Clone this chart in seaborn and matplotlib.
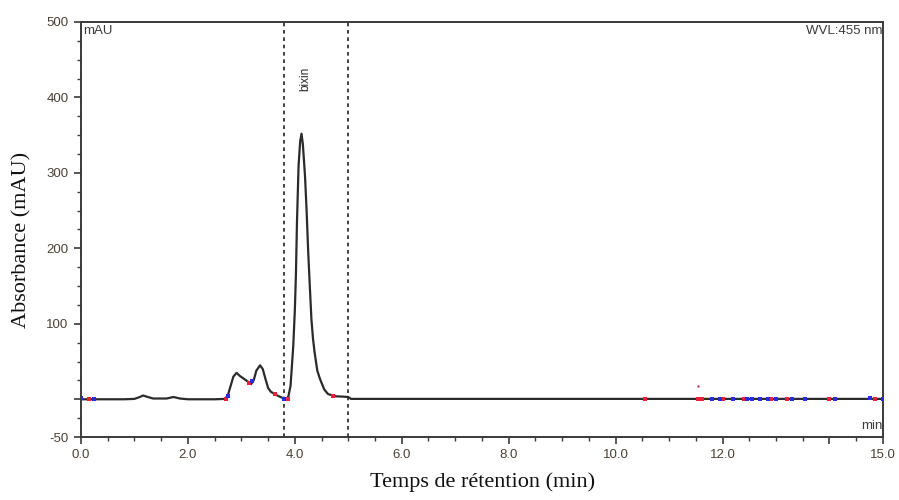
import matplotlib
matplotlib.use("Agg")
import matplotlib.pyplot as plt
import seaborn as sns
import pandas as pd
from matplotlib.ticker import MultipleLocator, FixedLocator

# ---- data ----
time_min = [0.0, 0.1, 0.3, 0.8, 1.0, 1.1, 1.16, 1.25, 1.35, 1.6, 1.73, 1.85, 2.0,
            2.5, 2.7, 2.75, 2.8, 2.85, 2.91, 2.97, 3.05, 3.13, 3.18, 3.23, 3.28,
            3.35, 3.4, 3.45, 3.5, 3.55, 3.62, 3.7, 3.78, 3.84, 3.88, 3.92, 3.97,
            4.0, 4.02, 4.04, 4.07, 4.1, 4.125, 4.15, 4.19, 4.22, 4.25, 4.28,
            4.31, 4.34, 4.37, 4.42, 4.47, 4.55, 4.62, 4.75, 4.9, 5.0, 5.05, 6.0,
            8.0, 10.0, 12.0, 15.0]
absorbance = [0, 0, 0, 0, 0.5, 3, 5, 3, 1, 1, 3, 1, 0,
              0, 0.5, 6, 18, 30, 35, 31, 27, 23, 20, 25, 38,
              45, 40, 27, 15, 10, 7, 4, 1.5, 0, 4, 18, 70,
              118, 165, 235, 310, 342, 352, 338, 296, 250, 195, 150,
              106, 80, 62, 38, 27, 13, 7, 4, 3.5, 3, 0.5, 0.5,
              0.5, 0.5, 0.5, 0.5]

# integration delimiter marks
red_marks_t = [0.15, 2.72, 3.15, 3.62, 3.87, 4.72, 10.55, 11.55, 11.62, 12.0,
               12.4, 12.9, 13.2, 14.0, 14.85]
red_marks_a = [0, 1, 21, 7, 0, 5, 0.5, 0.5, 0.5, 0.5, 0.5, 0.5, 0.5, 0.5, 1]
blue_marks_t = [0.0, 0.25, 2.75, 3.2, 3.8, 11.8, 11.95, 12.2, 12.45, 12.55,
                12.7, 12.85, 13.0, 13.3, 13.55, 14.1, 14.75, 15.0]
blue_marks_a = [2, 0, 4, 24, 1, 0, 0, 0.5, 0, 0.5, 0.5, 0.5, 0.5, 0, 0, 0, 2, 0]
stray_t = [11.55]
stray_a = [17]

vlines_t = [3.8, 5.0]
peak_label = "bixin"
peak_label_t = 4.19
peak_label_a = 425

ytick_vals = [-50, 0, 100, 200, 300, 400, 500]
ytick_labels = ["-50", "", "100", "200", "300", "400", "500"]
xtick_vals = [0, 2, 4, 6, 8, 10, 12, 14, 15]
xtick_labels = ["0.0", "2.0", "4.0", "6.0", "8.0", "10.0", "12.0", "", "15.0"]

df = pd.DataFrame({"t": time_min, "a": absorbance})

sns.set_theme(style="white")
plt.rcParams["font.family"] = ["Liberation Sans", "DejaVu Sans"]

fig = plt.figure(figsize=(8.99, 5.0), dpi=100)
ax = fig.add_axes([0.0901, 0.126, 0.892, 0.830])

edge = "#3a3a3a"
for v in vlines_t:
    ax.axvline(v, color="#222222", lw=1.2, ls=(0, (2.2, 2.2)), zorder=1)

sns.lineplot(data=df, x="t", y="a", ax=ax, color="#2b2b2b", lw=1.6,
             estimator=None, sort=False, zorder=3)

ax.scatter(red_marks_t, red_marks_a, s=6, color="#e8203a", marker="s",
           lw=0, zorder=4)
ax.scatter(blue_marks_t, blue_marks_a, s=5, color="#2a2ae0", marker="s",
           lw=0, zorder=4)
ax.scatter(stray_t, stray_a, s=3, color="#c0306a", lw=0, zorder=4)

ax.set_xlim(0, 15)
ax.set_ylim(-50, 500)

ax.xaxis.set_major_locator(FixedLocator(xtick_vals))
ax.set_xticklabels(xtick_labels)
ax.xaxis.set_minor_locator(MultipleLocator(0.5))
ax.yaxis.set_major_locator(FixedLocator(ytick_vals))
ax.set_yticklabels(ytick_labels)
ax.yaxis.set_minor_locator(MultipleLocator(25))

ax.tick_params(axis="both", which="major", direction="out", length=5,
               width=1.2, color=edge, labelsize=9.5, labelcolor="#4a4036",
               bottom=True, left=True, top=False, right=False, pad=4)
ax.tick_params(axis="both", which="minor", direction="out", length=3,
               width=1.0, color=edge, bottom=True, left=True, top=False,
               right=False)

for sp in ax.spines.values():
    sp.set_visible(True)
    sp.set_color(edge)
    sp.set_linewidth(1.4)

ax.text(0.003, 0.992, "mAU", transform=ax.transAxes, ha="left", va="top",
        fontsize=9.5, color="#3a3a3a")
ax.text(0.999, 0.992, "WVL:455 nm", transform=ax.transAxes, ha="right",
        va="top", fontsize=9.5, color="#3a3a3a")
ax.text(0.999, 0.012, "min", transform=ax.transAxes, ha="right",
        va="bottom", fontsize=9.5, color="#3a3a3a")
ax.text(peak_label_t, peak_label_a, peak_label, rotation=90, ha="center",
        va="center", fontsize=8.5, color="#2b2b2b")

ax.set_xlabel("Temps de rétention (min)", family=["Liberation Serif"],
              fontsize=16, color="#111111")
ax.set_ylabel("Absorbance (mAU)", family=["Liberation Serif"],
              fontsize=16, color="#111111")
ax.xaxis.set_label_coords(0.501, -0.085)
ax.yaxis.set_label_coords(-0.062, 0.475)

fig.savefig("out.png", dpi=100)
